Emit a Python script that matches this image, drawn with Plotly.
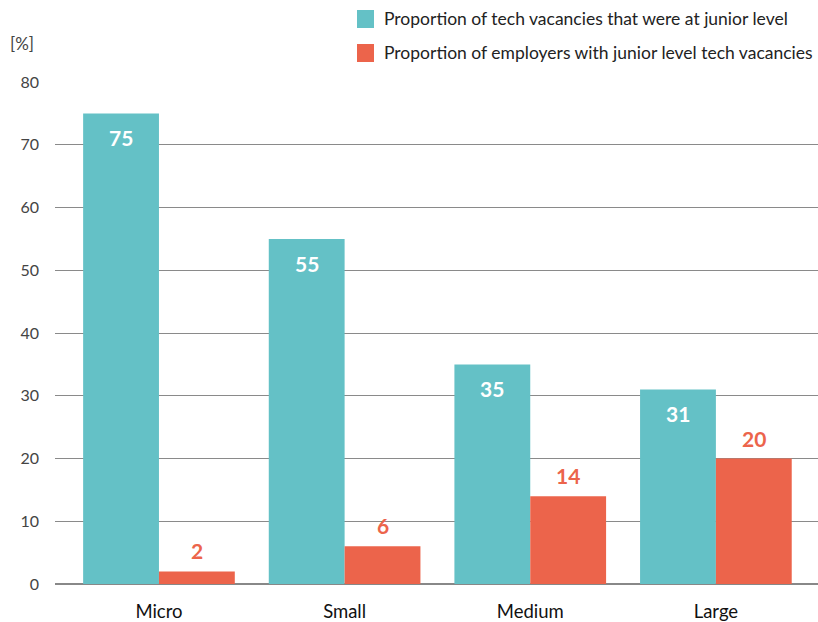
import plotly.graph_objects as go

categories = ["Micro", "Small", "Medium", "Large"]
vacancies_junior = [75, 55, 35, 31]
employers_junior = [2, 6, 14, 20]
series_names = ["Proportion of tech vacancies that were at junior level",
                "Proportion of employers with junior level tech vacancies"]
y_ticks = [0, 10, 20, 30, 40, 50, 60, 70, 80]

TEAL = "#64C1C6"
CORAL = "#EC644B"
FONT = "Lato"

fig = go.Figure()
fig.add_trace(go.Bar(x=categories, y=vacancies_junior, name=series_names[0],
                     marker=dict(color=TEAL, line=dict(width=0)), showlegend=False))
fig.add_trace(go.Bar(x=categories, y=employers_junior, name=series_names[1],
                     marker=dict(color=CORAL, line=dict(width=0)), showlegend=False))

ann = []
for c, v in zip(categories, vacancies_junior):
    ann.append(dict(x=c, y=v, text=str(v), showarrow=False, xshift=-38, yshift=-10,
                    yanchor="top", font=dict(family=FONT, size=21, color="white", weight="bold")))
for c, v in zip(categories, employers_junior):
    ann.append(dict(x=c, y=v, text=str(v), showarrow=False, xshift=38, yshift=6,
                    yanchor="bottom", font=dict(family=FONT, size=21, color=CORAL, weight="bold")))
ann.append(dict(x=-0.062, xref="paper", y=1.0757, yref="paper", text="[%]", showarrow=False,
                xanchor="left", yanchor="middle", font=dict(family=FONT, size=17, color="#444")))

# custom legend (square swatches + labels), placed in paper coordinates
shapes = []
legend_rows = [(series_names[0], TEAL, 1.1434, 1.1076, 1.1255),
               (series_names[1], CORAL, 1.0757, 1.0398, 1.0588)]
for name, col, y1, y0, yc in legend_rows:
    shapes.append(dict(type="rect", xref="paper", yref="paper", x0=0.3958, x1=0.4181,
                       y0=y0, y1=y1, fillcolor=col, line=dict(width=0)))
    ann.append(dict(x=0.428, xref="paper", y=yc, yref="paper", text=name, showarrow=False,
                    xanchor="left", yanchor="middle",
                    font=dict(family=FONT, size=17.5, color="#222")))

fig.update_layout(
    width=818, height=622,
    margin=dict(l=55, r=0, t=82, b=38),
    paper_bgcolor="white", plot_bgcolor="white",
    barmode="group", bargap=0.183, bargroupgap=0,
    font=dict(family=FONT, size=16, color="#444"),
    showlegend=False,
    annotations=ann, shapes=shapes,
    xaxis=dict(range=[-0.56, 3.55], showgrid=False, showline=False, ticks="",
               tickfont=dict(family=FONT, size=18.5, color="#111"), ticklabelstandoff=14),
    yaxis=dict(range=[0, 80], tickvals=y_ticks, showgrid=True, gridcolor="#8a8a8a", gridwidth=1,
               zeroline=True, zerolinecolor="#888", zerolinewidth=2, showline=False,
               tickfont=dict(family=FONT, size=16, color="#444"), ticklabelstandoff=15),
)
fig.write_html("out.html")
